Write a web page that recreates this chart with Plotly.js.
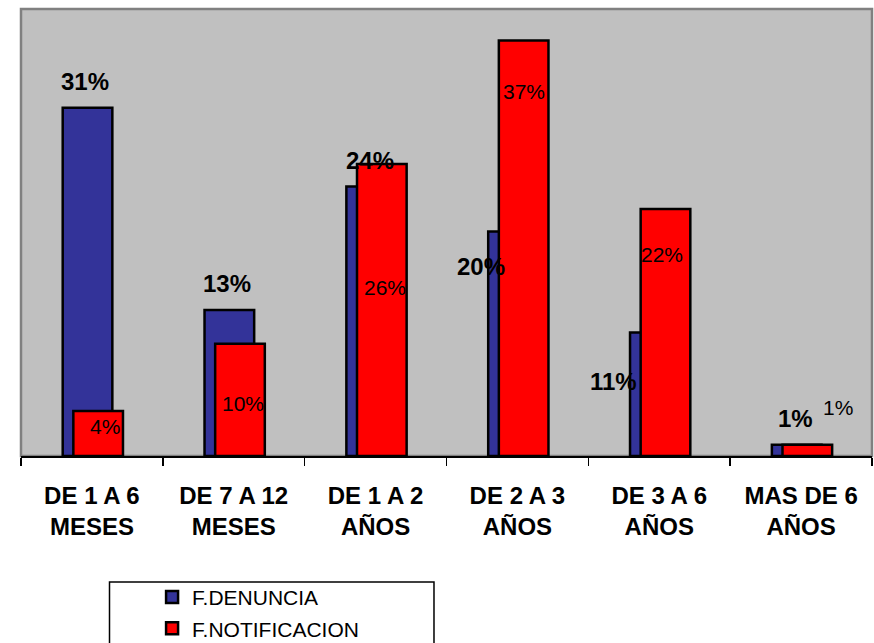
<!DOCTYPE html>
<html>
<head>
<meta charset="utf-8">
<script src="https://cdn.plot.ly/plotly-3.0.1.min.js"></script>
<style>
  html, body { margin: 0; padding: 0; background: #ffffff; }
  #chart { width: 874px; height: 643px; }
</style>
</head>
<body>
<div id="chart"></div>
<script>
// Time ranges (x axis categories)
const categories = [
  'DE 1 A 6<br>MESES',
  'DE 7 A 12<br>MESES',
  'DE 1 A 2<br>AÑOS',
  'DE 2 A 3<br>AÑOS',
  'DE 3 A 6<br>AÑOS',
  'MAS DE 6<br>AÑOS'
];

// Percentages per series
const denuncia = [31, 13, 24, 20, 11, 1];
const notificacion = [4, 10, 26, 37, 22, 1];

const seriesNames = ['F.DENUNCIA', 'F.NOTIFICACION'];

// Label placement relative to each bar top (pixels)
const blueLabelDX = [-7, -7, -6, -36, -46, -6];
const blueLabelDY = [26, 26, 26, -35, -49, 26];
const redLabelDX = [13, 9, 9, 7, 3, 37];
const redLabelDY = [-15, -60, -124, -51, -46, 37];

const FONT = 'Liberation Sans, Arial, sans-serif';
const BLUE = '#333399';
const RED = '#ff0000';

const traces = [
  {
    type: 'bar',
    name: seriesNames[0],
    x: categories,
    y: denuncia,
    offset: -0.206,
    width: 0.35,
    marker: { color: BLUE, line: { color: '#000000', width: 2.5 } },
    legendgroup: 'a',
    hoverinfo: 'x+y'
  },
  {
    type: 'bar',
    name: seriesNames[1],
    x: categories,
    y: notificacion,
    offset: -0.131,
    width: 0.35,
    marker: { color: RED, line: { color: '#000000', width: 2.5 } },
    legendgroup: 'b',
    hoverinfo: 'x+y'
  }
];

const annotations = [];
categories.forEach((c, i) => {
  annotations.push({
    x: c, y: denuncia[i], xref: 'x', yref: 'y',
    text: denuncia[i] + '%', showarrow: false,
    xshift: blueLabelDX[i], yshift: blueLabelDY[i],
    xanchor: 'center', yanchor: 'middle',
    font: { family: FONT, size: 24, color: '#000000', weight: 'bold' }
  });
  annotations.push({
    x: c, y: notificacion[i], xref: 'x', yref: 'y',
    text: notificacion[i] + '%', showarrow: false,
    xshift: redLabelDX[i], yshift: redLabelDY[i],
    xanchor: 'center', yanchor: 'middle',
    font: { family: FONT, size: 21, color: '#000000' }
  });
});

const layout = {
  width: 874,
  height: 643,
  margin: { l: 21, r: 2, t: 9, b: 187, pad: 0, autoexpand: false },
  paper_bgcolor: '#ffffff',
  plot_bgcolor: '#c0c0c0',
  barmode: 'overlay',
  showlegend: true,
  font: { family: FONT, color: '#000000' },
  xaxis: {
    type: 'category',
    tickson: 'boundaries',
    ticks: 'outside',
    ticklen: 8,
    tickwidth: 1.5,
    tickcolor: '#000000',
    tickangle: 0,
    automargin: false,
    showline: true,
    linecolor: '#000000',
    linewidth: 2,
    showgrid: false,
    zeroline: false,
    tickfont: { family: FONT, size: 24, color: '#000000', weight: 'bold' },
    ticklabelstandoff: 17,
    fixedrange: true
  },
  yaxis: {
    range: [0, 39.8],
    showticklabels: false,
    showgrid: false,
    zeroline: false,
    showline: false,
    ticks: '',
    automargin: false,
    fixedrange: true
  },
  legend: {
    xref: 'container',
    yref: 'container',
    x: 0.174,
    y: 0.1028,
    xanchor: 'left',
    yanchor: 'top',
    bgcolor: 'rgba(0,0,0,0)',
    borderwidth: 0,
    tracegroupgap: 1,
    font: { family: FONT, size: 21, color: '#000000' }
  },
  shapes: [
    {
      type: 'rect', xref: 'paper', yref: 'paper',
      x0: 0, x1: 1, y0: 0, y1: 1,
      line: { color: '#808080', width: 2.5 },
      layer: 'below'
    },
    {
      type: 'rect', xref: 'paper', yref: 'paper',
      x0: 0.104, x1: 0.4853, y0: -0.434, y1: -0.2819,
      line: { color: '#000000', width: 1.5 },
      fillcolor: 'rgba(0,0,0,0)'
    }
  ],
  annotations: annotations
};

Plotly.newPlot('chart', traces, layout, { displayModeBar: false, staticPlot: true });
</script>
</body>
</html>
